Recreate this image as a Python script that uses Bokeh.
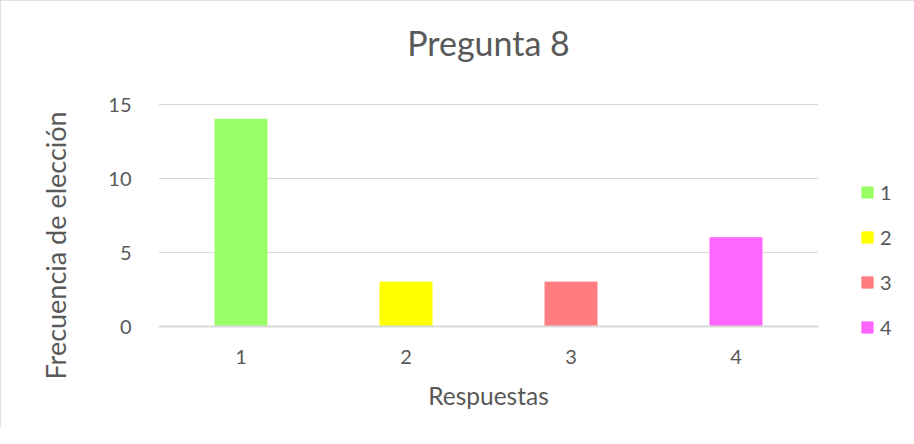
from bokeh.plotting import figure
from bokeh.models import ColumnDataSource, Range1d, Legend, LegendItem, FixedTicker, Title
from bokeh.embed import file_html
from bokeh.resources import INLINE

categories = ["1", "2", "3", "4"]
values = [14, 3, 3, 6]
colors = ["#99FF66", "#FFFF00", "#FF7C80", "#FF66FF"]
y_ticks = [0, 5, 10, 15]

TEXT = "#595959"
GRID = "#D9D9D9"
FONT = "Lato"
Y_VIEW_MAX = 16.622  # frame extends a little above the top gridline (15)

source = ColumnDataSource(dict(cat=categories, val=values, color=colors))

p = figure(
    x_range=categories,
    y_range=Range1d(0, Y_VIEW_MAX),
    width=898, height=428,
    frame_width=660, frame_height=246,
    output_backend="svg", toolbar_location=None,
    min_border_left=158, min_border_right=0,
    min_border_top=80, min_border_bottom=102,
    title="Pregunta 8",
)
p.x_range.range_padding = 0

r = p.vbar(x="cat", top="val", width=0.315, color="color", source=source)

p.title.align = "center"
p.title.text_font = FONT
p.title.text_font_size = "34px"
p.title.text_font_style = "normal"
p.title.text_color = TEXT
p.title.standoff = 36

p.outline_line_color = None
p.xgrid.grid_line_color = None
p.ygrid.grid_line_color = GRID
p.ygrid.grid_line_width = 1

p.yaxis.ticker = FixedTicker(ticks=y_ticks)
p.yaxis.axis_line_color = None
p.yaxis.major_tick_line_color = None
p.yaxis.minor_tick_line_color = None
p.yaxis.major_label_standoff = 21

p.xaxis.axis_line_color = GRID
p.xaxis.axis_line_width = 2
p.xaxis.major_tick_line_color = None
p.xaxis.minor_tick_line_color = None
p.xaxis.major_label_standoff = 17
p.xaxis.axis_label = "Respuestas"
p.xaxis.axis_label_standoff = 14

for ax in (p.xaxis[0], p.yaxis[0]):
    ax.major_label_text_font = FONT
    ax.major_label_text_font_size = "20px"
    ax.major_label_text_color = TEXT
    ax.axis_label_text_font = FONT
    ax.axis_label_text_font_size = "24.5px"
    ax.axis_label_text_font_style = "normal"
    ax.axis_label_text_color = TEXT

ytitle = Title(
    text="Frecuencia de elección", align="left", offset=-53, standoff=68,
    text_font=FONT, text_font_size="27px", text_font_style="normal", text_color=TEXT,
)
p.add_layout(ytitle, "left")

items = [LegendItem(label=c, renderers=[r], index=i) for i, c in enumerate(categories)]
legend = Legend(
    items=items, location=(42, -13),
    glyph_width=14, glyph_height=14, label_height=14, label_width=8,
    spacing=21, padding=0, margin=0, label_standoff=6,
    label_text_font=FONT, label_text_font_size="20px", label_text_color=TEXT,
    border_line_color=None, background_fill_alpha=0,
)
p.add_layout(legend, "right")

p.styles = {"outline": "1px solid #D9D9D9", "outline-offset": "-1px"}

open("out.html", "w").write(file_html(p, INLINE))
